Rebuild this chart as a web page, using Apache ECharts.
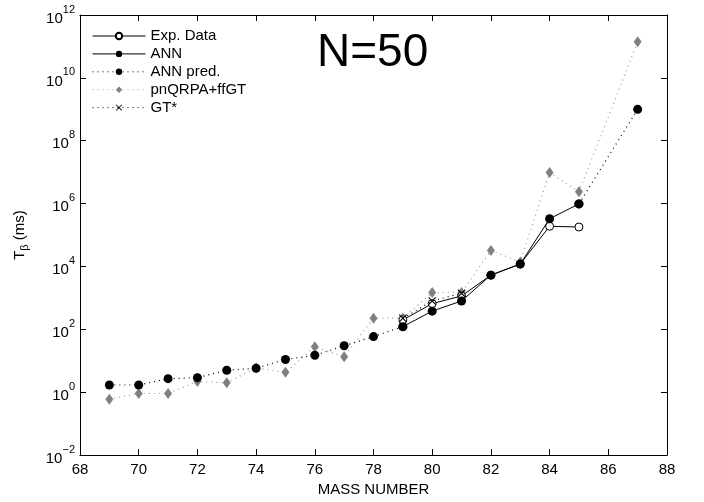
<!DOCTYPE html>
<html>
<head>
<meta charset="utf-8">
<script src="https://cdn.jsdelivr.net/npm/echarts@6/dist/echarts.min.js"></script>
<style>html,body{margin:0;padding:0;background:#fff}#c{width:704px;height:502px}</style>
</head>
<body>
<div id="c"></div>
<script>
// ---- data ----
var expMass = [79, 80, 81, 82, 83, 84, 85];
var expData = [200, 660, 1150, 5300, 12000, 1.9e5, 1.8e5];
var annMass = [79, 80, 81, 82, 83, 84, 85];
var annData = [122, 380, 800, 5300, 12000, 3.3e5, 9.8e5];
var annPredMass = [69, 70, 71, 72, 73, 74, 75, 76, 77, 78, 79, 80, 85, 87];
var annPredData = [1.7, 1.7, 2.7, 2.9, 5.0, 5.8, 11, 15, 30, 59, 122, '-', 9.8e5, 1.0e9];
var qrpaMass = [69, 70, 71, 72, 73, 74, 75, 76, 77, 78, 79, 80, 81, 82, 83, 84, 85, 87];
var qrpaData = [0.6, 0.91, 0.91, 2.2, 2.0, 6.0, 4.3, 28, 13.5, 225, 230, 1480, 1500, 32000, 14000, 9.8e6, 2.4e6, 1.4e11];
var gtMass = [79, 80, 81];
var gtData = [225, 800, 1400];
var xTicks = [68, 70, 72, 74, 76, 78, 80, 82, 84, 86, 88];
var yTickExps = [-2, 0, 2, 4, 6, 8, 10, 12];

function pairs(xs, ys) { return xs.map(function (x, i) { return [x, ys[i]]; }); }

var FONT = '"Liberation Sans", Arial, Helvetica, sans-serif';
var xPath = 'path://M0,1L1,0L5,4L9,0L10,1L6,5L10,9L9,10L5,6L1,10L0,9L4,5Z';

var chart = echarts.init(document.getElementById('c'), null, {renderer: 'canvas'});
var tickCommon = {show: true, inside: true, length: 6, lineStyle: {color: '#000', width: 1}};
var axisLineCommon = {show: true, lineStyle: {color: '#000', width: 1}};

chart.setOption({
  animation: false,
  backgroundColor: '#fff',
  textStyle: {fontFamily: FONT},
  grid: {left: 80, right: 37, top: 15, bottom: 46, containLabel: false},
  title: {
    text: 'N=50', left: 317, top: 30, padding: 0,
    textStyle: {fontFamily: FONT, fontSize: 46, fontWeight: 'normal', color: '#000'}
  },
  legend: {
    orient: 'vertical', left: 92, top: 28.5, padding: 0,
    itemWidth: 53, itemHeight: 8, itemGap: 2.9,
    lineStyle: {width: 1},
    textStyle: {fontFamily: FONT, fontSize: 15, color: '#000'},
    data: ['Exp. Data', 'ANN', 'ANN pred.', 'pnQRPA+ffGT', 'GT*']
  },
  xAxis: [{
    type: 'value', min: 68, max: 88, interval: 2, position: 'bottom',
    name: 'MASS NUMBER', nameLocation: 'middle', nameGap: 26,
    nameTextStyle: {fontFamily: FONT, fontSize: 15, color: '#000'},
    axisLine: axisLineCommon, axisTick: tickCommon, splitLine: {show: false},
    axisLabel: {margin: 7, fontFamily: FONT, fontSize: 15, color: '#000',
      formatter: function (v) { return xTicks.indexOf(v) >= 0 ? String(v) : ''; }}
  }, {
    type: 'value', min: 68, max: 88, interval: 2, position: 'top',
    axisLine: axisLineCommon, axisTick: tickCommon, splitLine: {show: false},
    axisLabel: {show: false}
  }],
  yAxis: [{
    type: 'log', logBase: 10, min: 1e-2, max: 1e12, interval: 2, position: 'left',
    name: '{t|T}{s|β}{n| (ms)}', nameLocation: 'middle', nameGap: 50, nameRotate: 90,
    nameTextStyle: {
      color: '#000',
      rich: {
        t: {fontFamily: FONT, fontSize: 15, color: '#000', verticalAlign: 'middle', lineHeight: 20},
        s: {fontFamily: FONT, fontSize: 11, color: '#000', verticalAlign: 'bottom', lineHeight: 20},
        n: {fontFamily: FONT, fontSize: 15, color: '#000', verticalAlign: 'middle', lineHeight: 20}
      }
    },
    axisLine: axisLineCommon, axisTick: tickCommon, splitLine: {show: false},
    axisLabel: {
      margin: 5, color: '#000',
      formatter: function (v) {
        var e = Math.round(Math.log(v) / Math.LN10);
        if (yTickExps.indexOf(e) < 0) return '';
        return '{b|10}{e|' + (e < 0 ? '\u2212' + (-e) : e) + '}';
      },
      rich: {
        b: {fontFamily: FONT, fontSize: 15, color: '#000', verticalAlign: 'bottom', lineHeight: 22},
        e: {fontFamily: FONT, fontSize: 11, color: '#000', verticalAlign: 'top', lineHeight: 22}
      }
    }
  }, {
    type: 'log', logBase: 10, min: 1e-2, max: 1e12, interval: 2, position: 'right',
    axisLine: axisLineCommon, axisTick: tickCommon, splitLine: {show: false},
    axisLabel: {show: false}
  }],
  series: [{
    name: 'pnQRPA+ffGT', type: 'line', data: pairs(qrpaMass, qrpaData),
    symbol: 'diamond', symbolSize: [8, 11], connectNulls: false, z: 2,
    lineStyle: {color: '#9a9a9a', width: 1.2, type: [1, 4]},
    itemStyle: {color: '#808080', borderWidth: 0}
  }, {
    name: 'ANN pred.', type: 'line', data: pairs(annPredMass, annPredData),
    symbol: 'circle', symbolSize: 9, connectNulls: false, z: 3,
    lineStyle: {color: '#000', width: 1.2, type: [1, 4]},
    itemStyle: {color: '#000', borderWidth: 0}
  }, {
    name: 'Exp. Data', type: 'line', data: pairs(expMass, expData),
    symbol: 'circle', symbolSize: 8, z: 4,
    lineStyle: {color: '#000', width: 1},
    itemStyle: {color: '#fff', borderColor: '#000', borderWidth: 1}
  }, {
    name: 'ANN', type: 'line', data: pairs(annMass, annData),
    symbol: 'circle', symbolSize: 9, z: 5,
    lineStyle: {color: '#000', width: 1},
    itemStyle: {color: '#000', borderWidth: 0}
  }, {
    name: 'GT*', type: 'line', data: pairs(gtMass, gtData),
    symbol: xPath, symbolSize: 8, z: 6,
    lineStyle: {color: '#000', width: 1.2, type: [1, 4]},
    itemStyle: {color: '#000', borderWidth: 0}
  }]
});
</script>
</body>
</html>
